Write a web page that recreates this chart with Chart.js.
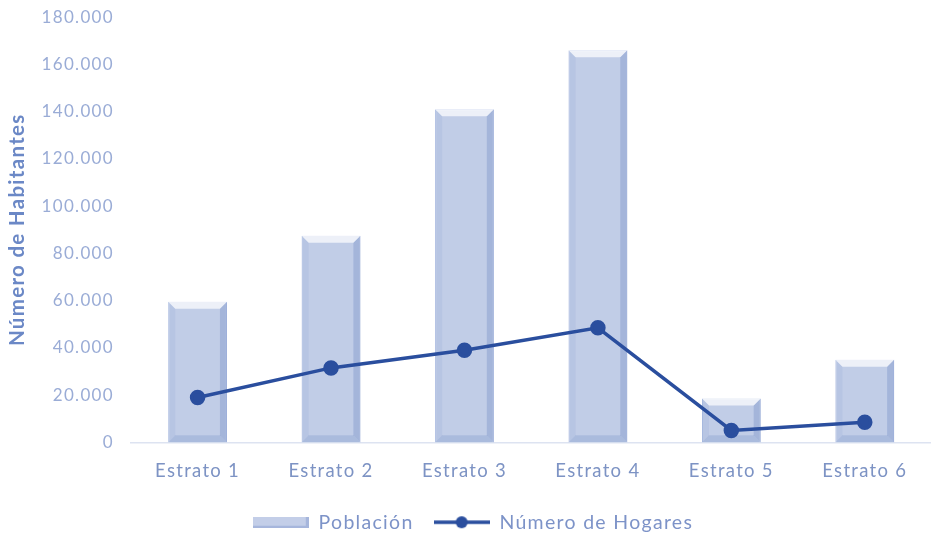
<!DOCTYPE html>
<html>
<head>
<meta charset="utf-8">
<script src="https://cdn.jsdelivr.net/npm/chart.js@4.4.0/dist/chart.umd.min.js"></script>
<style>
  html, body { margin: 0; padding: 0; background: #fff; overflow: hidden; }
  /* slightly larger box so the plot area reaches the page edges like the original */
  #wrap { position: absolute; left: 0; top: -2px; width: 941px; height: 544px; }
</style>
</head>
<body>
<div id="wrap"><canvas id="chart"></canvas></div>
<script>
// Data
const estratos = ['Estrato 1', 'Estrato 2', 'Estrato 3', 'Estrato 4', 'Estrato 5', 'Estrato 6'];
const poblacion = [59500, 87500, 141000, 166000, 18500, 35000];
const hogares = [19000, 31500, 39000, 48500, 5000, 8500];
const yTicks = [0, 20000, 40000, 60000, 80000, 100000, 120000, 140000, 160000, 180000];

const FONT = 'Lato, "Open Sans", sans-serif';
const LINE_COLOR = '#2a4e9e';

// Spanish thousands separator
function fmt(v) {
    return String(v).replace(/\B(?=(\d{3})+(?!\d))/g, '.');
}

// Legend swatches drawn as small canvases
function barSwatch() {
    const c = document.createElement('canvas');
    c.width = 56; c.height = 11;
    const g = c.getContext('2d');
    g.fillStyle = '#c3cee8';
    g.fillRect(0, 0, 56, 11);
    g.fillStyle = '#a6b6dc';
    g.fillRect(0, 9, 56, 2);
    g.fillRect(53, 0, 3, 11);
    return c;
}
function lineSwatch() {
    const c = document.createElement('canvas');
    c.width = 56; c.height = 14;
    const g = c.getContext('2d');
    g.strokeStyle = LINE_COLOR;
    g.lineWidth = 3.5;
    g.beginPath(); g.moveTo(0, 7); g.lineTo(56, 7); g.stroke();
    g.fillStyle = LINE_COLOR;
    g.beginPath(); g.arc(28, 7, 6, 0, Math.PI * 2); g.fill();
    return c;
}

// Wider text spacing, like the original (canvas resize resets it, so set it again)
const spacingPlugin = {
    id: 'spacing',
    beforeUpdate(chart) { chart.ctx.letterSpacing = '1.3px'; },
    beforeDraw(chart) { chart.ctx.letterSpacing = '1.3px'; }
};

// Bevel look for the bars
const bevelPlugin = {
    id: 'bevel',
    afterDatasetDraw(chart, args) {
        if (args.index !== 0) return;
        const ctx = chart.ctx;
        args.meta.data.forEach(bar => {
            const l = bar.x - bar.width / 2, r = bar.x + bar.width / 2;
            const t = bar.y, b = bar.base;
            const e = 7;
            ctx.save();
            // right shade
            ctx.fillStyle = 'rgba(120,145,200,0.4)';
            ctx.beginPath();
            ctx.moveTo(r, t); ctx.lineTo(r - e, t + e); ctx.lineTo(r - e, b - e); ctx.lineTo(r, b);
            ctx.closePath(); ctx.fill();
            // bottom shade
            ctx.fillStyle = 'rgba(120,145,200,0.3)';
            ctx.beginPath();
            ctx.moveTo(l, b); ctx.lineTo(l + e, b - e); ctx.lineTo(r - e, b - e); ctx.lineTo(r, b);
            ctx.closePath(); ctx.fill();
            // left shade (lighter)
            ctx.fillStyle = 'rgba(140,160,210,0.18)';
            ctx.beginPath();
            ctx.moveTo(l, t); ctx.lineTo(l + e, t + e); ctx.lineTo(l + e, b - e); ctx.lineTo(l, b);
            ctx.closePath(); ctx.fill();
            // top highlight
            ctx.fillStyle = 'rgba(255,255,255,0.7)';
            ctx.beginPath();
            ctx.moveTo(l, t); ctx.lineTo(r, t); ctx.lineTo(r - e, t + e); ctx.lineTo(l + e, t + e);
            ctx.closePath(); ctx.fill();
            ctx.restore();
        });
    }
};

const ctx = document.getElementById('chart').getContext('2d');
new Chart(ctx, {
    data: {
        labels: estratos,
        datasets: [{
            type: 'bar',
            label: 'Población',
            data: poblacion,
            backgroundColor: '#c1cde7',
            borderColor: '#aebee2',
            borderWidth: 1,
            barPercentage: 0.44,
            categoryPercentage: 1,
            order: 1
        }, {
            type: 'line',
            label: 'Número de Hogares',
            data: hogares,
            borderColor: LINE_COLOR,
            backgroundColor: LINE_COLOR,
            borderWidth: 3.5,
            pointRadius: 6,
            pointHoverRadius: 6,
            tension: 0,
            order: 0
        }]
    },
    options: {
        responsive: true,
        maintainAspectRatio: false,
        animation: false,
        layout: { padding: { top: 0, right: 0, left: 5, bottom: 0 } },
        plugins: {
            tooltip: { enabled: false },
            legend: {
                position: 'bottom',
                labels: {
                    usePointStyle: true,
                    pointStyleWidth: 56,
                    padding: 20,
                    color: '#7d93c8',
                    font: { family: FONT, size: 19.5 },
                    sort: (a, b) => a.datasetIndex - b.datasetIndex,
                    generateLabels(chart) {
                        const imgs = [barSwatch(), lineSwatch()];
                        return chart.data.datasets.map((ds, i) => ({
                            text: ds.label,
                            datasetIndex: i,
                            pointStyle: imgs[i],
                            fontColor: '#7d93c8',
                            hidden: false,
                            lineWidth: 0
                        }));
                    }
                }
            }
        },
        scales: {
            x: {
                grid: { display: false },
                border: { display: true, color: '#dde3f1', width: 1.5 },
                ticks: { color: '#7d93c4', font: { family: FONT, size: 18.5 }, padding: 10 }
            },
            y: {
                min: 0,
                max: 180000,
                afterBuildTicks(axis) { axis.ticks = yTicks.map(v => ({ value: v })); },
                grid: { display: false },
                border: { display: false },
                ticks: {
                    color: '#9aacd6',
                    font: { family: FONT, size: 17 },
                    padding: 9,
                    callback: v => fmt(v)
                },
                title: {
                    display: true,
                    text: 'Número de Habitantes',
                    color: '#6b88c6',
                    font: { family: FONT, size: 20.5, weight: 'bold' },
                    padding: { top: 0, bottom: 3 }
                }
            }
        }
    },
    plugins: [spacingPlugin, bevelPlugin]
});
</script>
</body>
</html>
